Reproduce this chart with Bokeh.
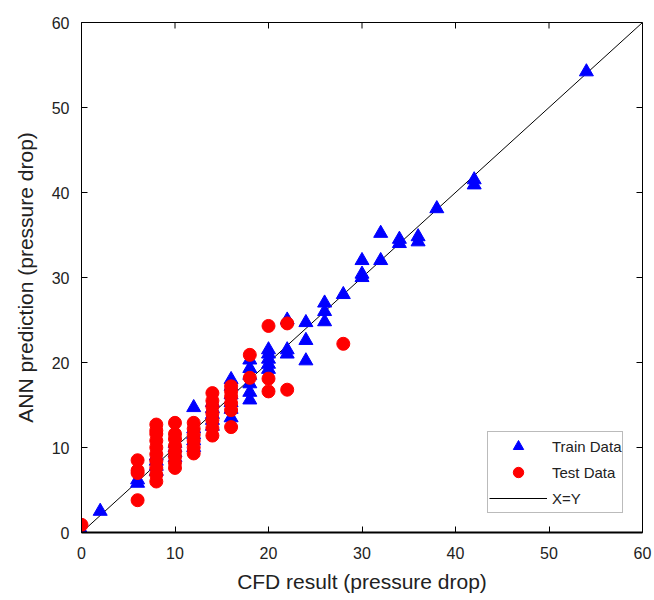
import math
from bokeh.plotting import figure
from bokeh.models import Range1d, FixedTicker, Legend, LegendItem
from bokeh.embed import file_html
from bokeh.resources import INLINE

# ---- data ----
train_x = [0, 0, 0, 2, 6, 6, 8, 8, 8, 8, 10, 10, 10, 10, 12, 12, 12, 12, 12,
           14, 14, 14, 14, 14, 16, 16, 16, 16, 16, 16, 18, 18, 18, 18, 18, 18,
           20, 20, 20, 20, 20, 22, 22, 22, 24, 24, 24, 26, 26, 26, 28,
           30, 30, 30, 32, 32, 34, 34, 36, 36, 38, 42, 42, 54]
train_y = [0.0, 0.2, 0.1, 2.5, 5.8, 6.2, 7.2, 7.8, 8.4, 9.0, 8.8, 9.4, 10.0, 10.5,
           10.0, 10.8, 11.5, 12.2, 14.7, 12.5, 13.2, 13.9, 14.6, 15.3,
           13.5, 14.5, 15.3, 16.2, 17.2, 18.0, 15.6, 16.5, 17.5, 18.5, 19.3, 20.3,
           19.2, 19.8, 20.4, 21.0, 21.5, 21.0, 21.5, 25.0, 20.2, 22.6, 24.7,
           24.8, 26.0, 27.0, 28.0, 30.0, 30.4, 32.0, 32.0, 35.2, 34.0, 34.5,
           34.2, 34.8, 38.1, 40.9, 41.5, 54.2]

test_x = [0, 6, 6, 6, 6, 8, 8, 8, 8, 8, 8, 8, 8, 8, 8,
          10, 10, 10, 10, 10, 10, 10, 10, 12, 12, 12, 12, 12, 12,
          14, 14, 14, 14, 14, 14, 14, 16, 16, 16, 16, 16, 16,
          18, 18, 20, 20, 20, 22, 22, 28]
test_y = [0.9, 3.8, 7.0, 7.3, 8.5, 6.0, 6.8, 7.6, 8.4, 9.2, 10.0, 10.8, 11.6, 12.0, 12.7,
          7.6, 8.2, 8.9, 9.5, 10.2, 11.0, 11.6, 12.9, 9.3, 10.0, 10.8, 11.5, 12.2, 12.9,
          11.4, 12.3, 13.2, 14.0, 14.8, 15.5, 16.4, 12.4, 14.4, 15.2, 16.0, 16.6, 17.2,
          18.2, 20.9, 16.6, 18.1, 24.3, 16.8, 24.6, 22.2]

line_x = [0, 60]
line_y = [0, 60]
ticks = [0, 10, 20, 30, 40, 50, 60]
AX_MIN, AX_MAX = 0, 60

FONT = "Liberation Sans"
TXT = "#222222"

p = figure(width=654, height=600, output_backend="svg", toolbar_location=None,
           x_range=Range1d(AX_MIN, AX_MAX), y_range=Range1d(AX_MIN, AX_MAX),
           min_border_left=81, min_border_right=12, min_border_top=22, min_border_bottom=68)
p.grid.visible = False
p.outline_line_color = "black"
p.outline_line_width = 1
p.background_fill_color = "white"
p.border_fill_color = "white"

for ax in (p.xaxis[0], p.yaxis[0]):
    ax.ticker = FixedTicker(ticks=ticks)
    ax.major_tick_in = 6
    ax.major_tick_out = 0
    ax.minor_tick_in = 0
    ax.minor_tick_out = 0
    ax.major_label_text_font = FONT
    ax.major_label_text_font_size = "16px"
    ax.major_label_text_color = TXT
    ax.axis_label_text_font = FONT
    ax.axis_label_text_font_size = "21px"
    ax.axis_label_text_font_style = "normal"
    ax.axis_label_text_color = TXT
    ax.axis_line_color = "black"

p.xaxis[0].axis_label = "CFD result (pressure drop)"
p.yaxis[0].axis_label = "ANN prediction (pressure drop)"
p.xaxis[0].axis_line_width = 2
p.xaxis[0].major_label_standoff = 14
p.xaxis[0].axis_label_standoff = 8
p.yaxis[0].major_label_standoff = 12
p.yaxis[0].axis_label_standoff = 12

# inward ticks on the top and right edges of the box
p.ray(x=ticks, y=[AX_MAX] * len(ticks), length=6, length_units="screen",
      angle=-math.pi / 2, line_color="black", line_width=1)
p.ray(x=[AX_MAX] * len(ticks), y=ticks, length=6, length_units="screen",
      angle=math.pi, line_color="black", line_width=1)

r_line = p.line(line_x, line_y, line_color="black", line_width=1)
r_train = p.scatter(train_x, train_y, marker="triangle", size=14,
                    fill_color="#0000ff", line_color="#0000ff")
r_test = p.scatter(test_x, test_y, marker="circle", size=13,
                   fill_color="#ff0000", line_color="#ff0000")

legend = Legend(items=[LegendItem(label="Train Data", renderers=[r_train]),
                       LegendItem(label="Test Data", renderers=[r_test]),
                       LegendItem(label="X=Y", renderers=[r_line])],
                location=(406, 19), orientation="vertical")
legend.label_text_font = FONT
legend.label_text_font_size = "15px"
legend.label_text_color = TXT
legend.border_line_color = "#777777"
legend.border_line_width = 1
legend.background_fill_color = "white"
legend.background_fill_alpha = 1
legend.padding = 1
legend.spacing = 0
legend.margin = 0
legend.glyph_width = 58
legend.glyph_height = 26
legend.label_height = 26
legend.label_standoff = 5
p.add_layout(legend, "center")

open("out.html", "w").write(file_html(p, INLINE))
